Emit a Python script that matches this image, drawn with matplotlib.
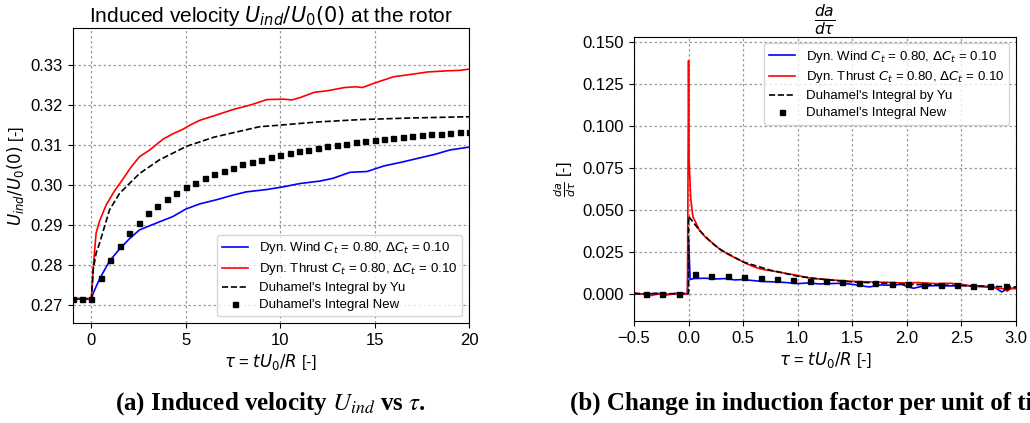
import matplotlib
matplotlib.use("Agg")
import matplotlib.pyplot as plt

plt.rcParams['font.family'] = ['Liberation Sans', 'DejaVu Sans']

# ---- left panel: induced velocity vs tau ----
tau_wind = [-1, -0.5, 0, 0.1, 0.43, 0.96, 1.49, 2.02, 2.55, 3.6, 4.3, 5.0, 5.74, 6.6, 7.5,
            8.2, 9.3, 10.2, 11.06, 12.1, 12.8, 13.7, 14.6, 15.5, 16.4, 17.3, 18.2, 19.0, 20]
u_wind = [0.2715, 0.2715, 0.2715, 0.2730, 0.2765, 0.2810, 0.2840, 0.2866, 0.2888, 0.2908,
          0.2921, 0.2940, 0.2953, 0.2963, 0.2975, 0.2983, 0.2989, 0.2996, 0.3004, 0.3010,
          0.3017, 0.3032, 0.3034, 0.3048, 0.3057, 0.3067, 0.3077, 0.3088, 0.3095]

tau_thrust = [-1, -0.5, 0, 0.1, 0.25, 0.43, 0.78, 1.22, 1.67, 2.1, 2.55, 3.09, 3.8, 4.3, 4.86,
              5.3, 5.74, 6.6, 7.5, 8.4, 9.3, 10.2, 10.6, 11.06, 11.8, 12.5, 13.4, 14.0, 14.35,
              15.05, 16.0, 17.1, 17.8, 18.9, 19.5, 20]
u_thrust = [0.2716, 0.2717, 0.2716, 0.2795, 0.2880, 0.2910, 0.2950, 0.2985, 0.3015, 0.3045,
            0.3071, 0.3088, 0.3115, 0.3128, 0.3140, 0.3152, 0.3162, 0.3175, 0.3189, 0.3200,
            0.3214, 0.3215, 0.3213, 0.3219, 0.3232, 0.3236, 0.3244, 0.3246, 0.3244, 0.3256,
            0.3271, 0.3278, 0.3283, 0.3286, 0.3287, 0.3290]

tau_yu = [-1, 0, 0.1, 0.25, 0.43, 0.96, 1.49, 1.93, 2.55, 3.6, 5.04, 6.5, 8.9, 10, 12, 14.3, 17, 20]
u_yu = [0.2715, 0.2715, 0.2790, 0.2830, 0.2854, 0.2938, 0.2979, 0.3000, 0.3029, 0.3063,
        0.3097, 0.3120, 0.3146, 0.3150, 0.3158, 0.3164, 0.3168, 0.3171]

tau_new = [-1, -0.5, 0, 0.5, 1, 1.5, 2, 2.5, 3, 3.5, 4, 4.5, 5, 5.5, 6, 6.5, 7, 7.5, 8, 8.5,
           9, 9.5, 10, 10.5, 11, 11.5, 12, 12.5, 13, 13.5, 14, 14.5, 15, 15.5, 16, 16.5, 17,
           17.5, 18, 18.5, 19, 19.5, 20]
u_new = [0.2715, 0.2715, 0.2715, 0.2768, 0.2813, 0.2848, 0.2879, 0.2906, 0.2929, 0.2948,
         0.2965, 0.2981, 0.2994, 0.3006, 0.3017, 0.3028, 0.3036, 0.3044, 0.3052, 0.3058,
         0.3064, 0.3070, 0.3075, 0.3080, 0.3085, 0.3089, 0.3093, 0.3098, 0.3101, 0.3104,
         0.3108, 0.3111, 0.3113, 0.3116, 0.3118, 0.3121, 0.3123, 0.3125, 0.3128, 0.3129,
         0.3131, 0.3132, 0.3133]

# ---- right panel: da/dtau ----
tau_wind_r = [-0.5, -0.4, -0.3, -0.2, -0.1, -0.01, 0.0, 0.015, 0.05, 0.15, 0.25, 0.35, 0.42,
              0.5, 0.59, 0.7, 0.8, 0.9, 1.0, 1.1, 1.2, 1.3, 1.4, 1.51, 1.6, 1.66, 1.75, 1.85,
              1.95, 2.06, 2.15, 2.27, 2.4, 2.5, 2.6, 2.7, 2.8, 2.87, 2.93, 3.0]
da_wind = [0.0, -0.0004, 0.0002, -0.0004, 0.0002, 0.0, 0.032, 0.0085, 0.0090, 0.0092, 0.0088,
           0.0090, 0.0082, 0.0084, 0.0078, 0.0072, 0.0070, 0.0066, 0.0060, 0.0064, 0.0058,
           0.0060, 0.0062, 0.0055, 0.0045, 0.0040, 0.0052, 0.0050, 0.0055, 0.0032, 0.0045,
           0.0048, 0.0046, 0.0050, 0.0046, 0.0044, 0.0040, 0.0010, 0.0032, 0.0030]

tau_thrust_r = [-0.5, -0.45, -0.4, -0.35, -0.3, -0.25, -0.2, -0.15, -0.1, -0.05, -0.01, 0.0,
                0.005, 0.02, 0.04, 0.07, 0.1, 0.15, 0.19, 0.24, 0.28, 0.35, 0.41, 0.47, 0.53,
                0.6, 0.65, 0.72, 0.83, 0.9, 0.99, 1.07, 1.14, 1.25, 1.35, 1.45, 1.55, 1.66,
                1.8, 1.97, 2.1, 2.27, 2.4, 2.5, 2.58, 2.7, 2.8, 2.88, 2.92, 2.95, 3.0]
da_thrust = [0.0005, 0.0, -0.0005, -0.0012, -0.0005, 0.0, -0.0008, -0.0003, 0.0002, -0.0004,
             -0.0002, 0.139, 0.080, 0.0568, 0.0458, 0.0420, 0.0378, 0.0340, 0.0319, 0.0290,
             0.0269, 0.0240, 0.0219, 0.0200, 0.0179, 0.0160, 0.0149, 0.0140, 0.0129, 0.0120,
             0.0110, 0.0098, 0.0090, 0.0085, 0.0080, 0.0075, 0.0072, 0.0070, 0.0068, 0.0064,
             0.0066, 0.0060, 0.0062, 0.0056, 0.0046, 0.0040, 0.0036, 0.0030, 0.0015, 0.0030,
             0.0036]

tau_yu_r = [-0.5, 0.0, 0.0, 0.05, 0.1, 0.2, 0.3, 0.5, 0.75, 1.0, 1.25, 1.5, 2.0, 2.5, 3.0]
da_yu = [0.0, 0.0, 0.0462, 0.0420, 0.0378, 0.0310, 0.0259, 0.0189, 0.0140, 0.0104, 0.0084,
         0.0070, 0.0056, 0.0048, 0.0040]

tau_new_r = [-0.39, -0.24, -0.09, 0.06, 0.21, 0.36, 0.51, 0.66, 0.81, 0.96, 1.11, 1.26, 1.41,
             1.56, 1.71, 1.86, 2.01, 2.16, 2.31, 2.46, 2.61, 2.76, 2.91]
da_new = [0.0, 0.0, 0.0, 0.0116, 0.0108, 0.0104, 0.0100, 0.0094, 0.0088, 0.0084, 0.0078,
          0.0074, 0.0070, 0.0066, 0.0062, 0.0060, 0.0056, 0.0054, 0.0052, 0.0050, 0.0048,
          0.0046, 0.0044]

lab_wind = r"Dyn. Wind $C_t$ = 0.80, $\Delta C_t$ = 0.10"
lab_thrust = r"Dyn. Thrust $C_t$ = 0.80, $\Delta C_t$ = 0.10"
lab_yu = "Duhamel's Integral by Yu"
lab_new = "Duhamel's Integral New"

fig = plt.figure(figsize=(10.30, 4.23), dpi=100)
ax1 = fig.add_axes([0.0704, 0.2364, 0.3849, 0.6974])
ax2 = fig.add_axes([0.6155, 0.2400, 0.3709, 0.6733])

lw = 1.2
for ax, d in ((ax1, (tau_wind, u_wind, tau_thrust, u_thrust, tau_yu, u_yu, tau_new, u_new)),
              (ax2, (tau_wind_r, da_wind, tau_thrust_r, da_thrust, tau_yu_r, da_yu, tau_new_r, da_new))):
    ax.plot(d[0], d[1], color='blue', lw=lw, label=lab_wind)
    ax.plot(d[2], d[3], color='red', lw=lw, label=lab_thrust)
    ax.plot(d[4], d[5], color='black', ls='--', lw=lw, label=lab_yu)
    ax.plot(d[6], d[7], ls='none', marker='s', ms=3.6, color='black', label=lab_new)
    ax.grid(True, color='#9a9a9a', ls=(0, (2, 2)), lw=0.9)
    ax.tick_params(labelsize=12)

ax1.set_xlim(-1, 20)
ax1.set_ylim(0.2655, 0.3393)
ax1.set_xticks([0, 5, 10, 15, 20])
ax1.set_yticks([0.27, 0.28, 0.29, 0.30, 0.31, 0.32, 0.33])
ax1.set_title(r"Induced velocity $U_{ind}/U_0(0)$ at the rotor", fontsize=15, pad=4)
ax1.set_xlabel(r"$\tau$ = $tU_0/R$ [-]", fontsize=12, labelpad=3)
ax1.set_ylabel(r"$U_{ind}/U_0(0)$ [-]", fontsize=12, labelpad=3)
ax1.legend(loc='lower right', fontsize=9.5, labelspacing=0.36)

ax2.set_xlim(-0.5, 3.0)
ax2.set_ylim(-0.0166, 0.1533)
ax2.set_xticks([-0.5, 0.0, 0.5, 1.0, 1.5, 2.0, 2.5, 3.0])
ax2.set_yticks([0.0, 0.025, 0.05, 0.075, 0.1, 0.125, 0.15])
ax2.set_title(r"$\frac{da}{d\tau}$", fontsize=16, pad=0)
ax2.set_xlabel(r"$\tau$ = $tU_0/R$ [-]", fontsize=12, labelpad=3)
ax2.set_ylabel(r"$\frac{da}{d\tau}$ [-]", fontsize=11.5, labelpad=3)
ax2.legend(loc='upper right', fontsize=9.5, labelspacing=0.36)

# sub-figure captions; the (b) caption runs off the right edge, as in the source page
cap = dict(fontsize=18, fontweight='bold', family='Liberation Serif', math_fontfamily='stix',
           va='center')
fig.text(0.1117, 0.047, r"(a) Induced velocity $U_{ind}$ vs $\tau$.", ha='left', **cap)
fig.text(0.5534, 0.047, "(b) Change in induction factor per unit of time.", ha='left', **cap)

fig.savefig("out.png", dpi=100)
